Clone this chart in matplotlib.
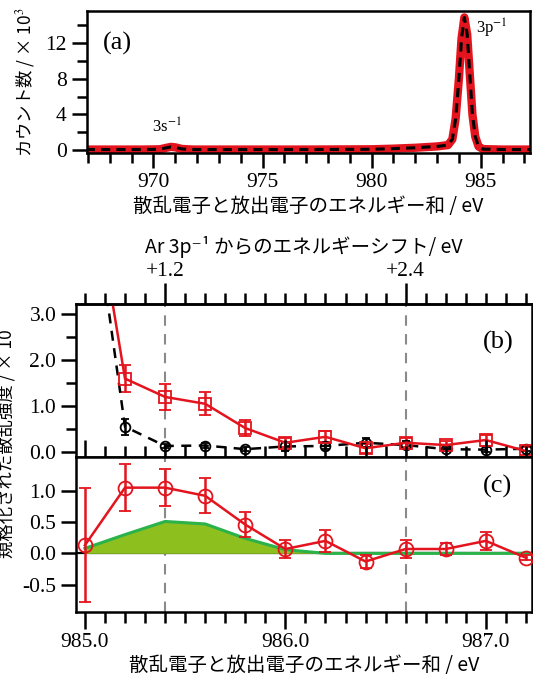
import numpy as np
import matplotlib
matplotlib.use("Agg")
import matplotlib.pyplot as plt
from matplotlib.ticker import MultipleLocator, FixedLocator, FuncFormatter

# 字体设置：刻度用衬线体，日文标签用 Noto Sans CJK JP
plt.rcParams["font.family"] = ["Liberation Serif", "DejaVu Serif"]
plt.rcParams["axes.unicode_minus"] = False
plt.rcParams["mathtext.fontset"] = "stix"
JP = ["Noto Sans CJK JP", "DejaVu Sans"]

# ---------------------------------------------------------------------------
# 数据
# ---------------------------------------------------------------------------
# (a) 能量和谱 (counts / 1e3)
spec_e = [966.9, 968.0, 969.5, 970.3, 970.6, 970.8, 971.0, 971.3, 971.8, 974.0,
          977.0, 980.0, 981.0, 982.0, 983.0, 983.5, 983.7, 983.85, 984.0, 984.12,
          984.25, 984.38, 984.5, 984.62, 984.75, 984.9, 985.1, 986.0, 987.3]
spec_counts = [0.05, 0.05, 0.05, 0.08, 0.25, 0.35, 0.3, 0.12, 0.05, 0.05,
               0.05, 0.08, 0.15, 0.25, 0.4, 0.55, 1.2, 3.5, 8.0, 12.5,
               14.9, 13.0, 8.5, 4.0, 1.5, 0.4, 0.1, 0.05, 0.05]

# (b) 散乱强度
b_e = [985.0, 985.2, 985.4, 985.6, 985.8, 986.0, 986.2, 986.4, 986.6, 986.8, 987.0, 987.2]
b_red = [6.9, 1.60, 1.20, 1.05, 0.52, 0.20, 0.33, 0.08, 0.20, 0.15, 0.26, 0.02]
b_red_err = [0.0, 0.30, 0.28, 0.25, 0.18, 0.10, 0.12, 0.10, 0.10, 0.08, 0.12, 0.08]
b_black = [6.8, 0.55, 0.13, 0.14, 0.06, 0.12, 0.13, 0.20, 0.15, 0.06, 0.05, 0.07]
b_black_err = [0.0, 0.17, 0.05, 0.05, 0.04, 0.10, 0.06, 0.10, 0.08, 0.05, 0.06, 0.05]

# (c) 规格化散乱强度
c_e = [985.0, 985.2, 985.4, 985.6, 985.8, 986.0, 986.2, 986.4, 986.6, 986.8, 987.0, 987.2]
c_red = [0.13, 1.05, 1.05, 0.92, 0.46, 0.07, 0.20, -0.13, 0.07, 0.07, 0.20, -0.07]
c_red_err = [0.91, 0.37, 0.30, 0.28, 0.20, 0.14, 0.17, 0.10, 0.14, 0.10, 0.14, 0.04]
green_e = [985.0, 985.2, 985.4, 985.6, 985.8, 986.0, 986.2, 986.4, 986.6, 986.8, 987.0, 987.2, 987.3]
green_val = [0.08, 0.30, 0.51, 0.47, 0.24, 0.06, 0.0, 0.0, 0.0, 0.0, 0.0, 0.0, 0.0]

vlines_e = [985.4, 986.6]
shift_ref = 984.2
top_ticks = [1.2, 2.4]
top_labels = ["+1.2", "+2.4"]
c_yticks = [-0.5, 0.0, 0.5, 1.0]

RED = "#e3141d"
GRAY = "#8a8a8a"
GREEN_LINE = "#2bb24a"
GREEN_FILL = "#8dbf1f"
TICK_FS = 15.5
LABEL_FS = 14

fig = plt.figure(figsize=(5.33, 6.77), dpi=100)

# ---------------------------------------------------------------------------
# (a)
# ---------------------------------------------------------------------------
ax_a = fig.add_axes([0.163, 0.7745, 0.831, 0.209])
ax_a.plot(spec_e, spec_counts, color=RED, lw=6, solid_joinstyle="round")
ax_a.plot(spec_e, spec_counts, color="black", lw=2.2, dashes=(3, 2))
ax_a.set_xlim(966.95, 987.25)
ax_a.set_ylim(-0.3, 15.6)
ax_a.xaxis.set_major_locator(MultipleLocator(5))
ax_a.xaxis.set_minor_locator(MultipleLocator(1))
ax_a.yaxis.set_major_locator(MultipleLocator(4))
ax_a.yaxis.set_minor_locator(MultipleLocator(2))
ax_a.tick_params(which="both", direction="out", width=1.8, labelsize=TICK_FS)
ax_a.tick_params(which="major", length=11)
ax_a.tick_params(which="minor", length=7)
ax_a.set_xlabel("散乱電子と放出電子のエネルギー和 / eV", family=JP, fontsize=LABEL_FS, labelpad=3)
ax_a.set_ylabel("カウント数 / × 10$^3$", family=JP, fontsize=12.5, labelpad=6)
ax_a.text(0.036, 0.774, "(a)", transform=ax_a.transAxes, fontsize=19, va="center")
ax_a.text(970.6, 2.6, "3s$^{-1}$", fontsize=12, ha="center", va="center")
ax_a.text(985.5, 13.7, "3p$^{-1}$", fontsize=12, ha="center", va="center")
for s in ax_a.spines.values():
    s.set_linewidth(1.8)

# ---------------------------------------------------------------------------
# (b)
# ---------------------------------------------------------------------------
ax_b = fig.add_axes([0.1435, 0.325, 0.8545, 0.2255])
ax_c = fig.add_axes([0.1435, 0.0966, 0.8545, 0.2284], sharex=ax_b)

for ax in (ax_b, ax_c):
    for x in vlines_e:
        ax.axvline(x, color=GRAY, lw=1.5, dashes=(5, 4), zorder=0)
    for s in ax.spines.values():
        s.set_linewidth(1.8)

ax_b.errorbar(b_e, b_black, yerr=b_black_err, color="black", lw=1.8, dashes=(4, 3),
              marker="o", ms=7, mfc="none", mec="black", mew=1.3,
              ecolor="black", elinewidth=1.8, capsize=3, capthick=1.8)
ax_b.errorbar(b_e, b_red, yerr=b_red_err, color=RED, lw=1.8,
              marker="s", ms=8, mfc="none", mec=RED, mew=1.3,
              ecolor=RED, elinewidth=1.8, capsize=4, capthick=1.8)
ax_b.set_xlim(984.958, 987.23)
ax_b.set_ylim(-0.11, 3.22)
ax_b.yaxis.set_major_locator(MultipleLocator(1.0))
ax_b.yaxis.set_minor_locator(MultipleLocator(0.5))
ax_b.yaxis.set_major_formatter(FuncFormatter(lambda v, p: f"{v:.1f}"))
ax_b.tick_params(axis="y", which="both", direction="out", width=1.8, labelsize=TICK_FS)
ax_b.tick_params(axis="y", which="major", length=11)
ax_b.tick_params(axis="y", which="minor", length=7)
ax_b.tick_params(axis="x", which="both", bottom=False, labelbottom=False)
ax_b.text(0.925, 0.747, "(b)", transform=ax_b.transAxes, fontsize=19,
          ha="center", va="center")

# 上轴：相对 Ar 3p^-1 的能量位移
sec = ax_b.secondary_xaxis("top", functions=(lambda e: e - shift_ref,
                                             lambda s: s + shift_ref))
sec.xaxis.set_major_locator(FixedLocator(top_ticks))
sec.xaxis.set_major_formatter(FuncFormatter(
    lambda v, p: top_labels[top_ticks.index(round(v, 1))] if round(v, 1) in top_ticks else ""))
sec.xaxis.set_minor_locator(MultipleLocator(0.1))
sec.tick_params(which="both", direction="out", width=1.8, labelsize=TICK_FS)
sec.tick_params(which="major", length=15, pad=2)
sec.tick_params(which="minor", length=8)
sec.spines["top"].set_linewidth(1.8)
sec.set_xlabel("Ar 3p⁻¹ からのエネルギーシフト/ eV", family=JP, fontsize=LABEL_FS, labelpad=6)

# ---------------------------------------------------------------------------
# (c)
# ---------------------------------------------------------------------------
ax_c.axhline(0, color="black", lw=1.6, zorder=1)
ax_c.fill_between(green_e, green_val, 0, color=GREEN_FILL, lw=0, zorder=1)
ax_c.plot(green_e, green_val, color=GREEN_LINE, lw=2.2, zorder=2)
ax_c.errorbar(c_e, c_red, yerr=c_red_err, color=RED, lw=1.8,
              marker="o", ms=10, mfc="none", mec=RED, mew=1.3,
              ecolor=RED, elinewidth=1.8, capsize=4, capthick=1.8, zorder=3)
ax_c.set_ylim(-0.93, 1.54)
ax_c.yaxis.set_major_locator(FixedLocator(c_yticks))
ax_c.yaxis.set_major_formatter(FuncFormatter(lambda v, p: f"{v:.1f}"))
ax_c.xaxis.set_major_locator(MultipleLocator(1.0))
ax_c.xaxis.set_minor_locator(MultipleLocator(0.1))
ax_c.xaxis.set_major_formatter(FuncFormatter(lambda v, p: f"{v:.1f}"))
ax_c.tick_params(axis="y", which="major", direction="out", length=11, width=1.8,
                 labelsize=TICK_FS)
ax_c.tick_params(axis="x", which="both", direction="out", width=1.8, labelsize=TICK_FS,
                 top=True)
ax_c.tick_params(axis="x", which="major", length=12)
ax_c.tick_params(axis="x", which="minor", length=8)
ax_c.set_xlabel("散乱電子と放出電子のエネルギー和 / eV", family=JP, fontsize=LABEL_FS, labelpad=2)
ax_c.text(0.925, 0.81, "(c)", transform=ax_c.transAxes, fontsize=19,
          ha="center", va="center")

# 共用的纵轴标签（左侧被裁掉一半）
fig.text(0.012, 0.345, "規格化された散乱強度 / × 10", family=JP, fontsize=12.5,
         rotation=90, ha="center", va="center")

fig.savefig("out.png", dpi=100)
